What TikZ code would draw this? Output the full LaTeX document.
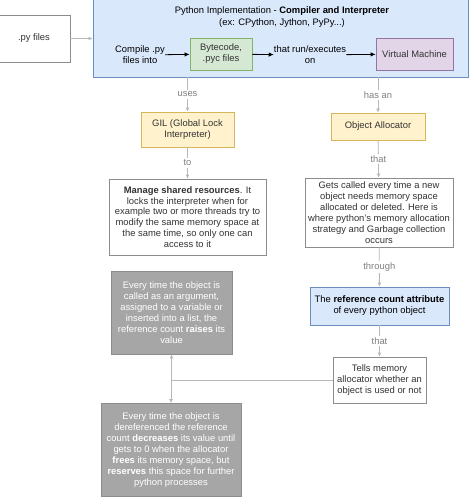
\documentclass[tikz,border=0pt]{standalone}
\usepackage{fontspec}
\setmainfont{Liberation Sans}
\usepackage{xcolor}
\usetikzlibrary{arrows.meta}
\definecolor{blueF}{HTML}{DAE8FC}
\definecolor{blueD}{HTML}{6C8EBF}
\definecolor{greenF}{HTML}{D5E8D4}
\definecolor{greenD}{HTML}{82B366}
\definecolor{purpleF}{HTML}{E1D5E7}
\definecolor{purpleD}{HTML}{9673A6}
\definecolor{yellowF}{HTML}{FFF2CC}
\definecolor{yellowD}{HTML}{D6B656}
\definecolor{greyF}{HTML}{A6A6A6}
\definecolor{greyD}{HTML}{8C8C8C}
\definecolor{lineC}{HTML}{B8B8B8}
\definecolor{txtC}{HTML}{333333}

\begin{document}
\begin{tikzpicture}[x=1pt,y=-1pt]
    \useasboundingbox (0,0) rectangle (474,497);

    \tikzstyle{base}=[inner sep=0pt,align=center,text=txtC,font=\fontsize{9.4pt}{10.9pt}\selectfont]
    \tikzstyle{plain}=[base,draw=greyD,fill=white,line width=0.8pt]
    \tikzstyle{impl}=[base,draw=blueD,fill=blueF,line width=0.8pt]
    \tikzstyle{code}=[base,draw=greenD,fill=greenF,line width=0.8pt]
    \tikzstyle{vm}=[base,draw=purpleD,fill=purpleF,line width=0.8pt]
    \tikzstyle{core}=[base,draw=yellowD,fill=yellowF,line width=0.8pt]
    \tikzstyle{dark}=[base,draw=greyD,fill=greyF,text=white,line width=0.8pt]
    \tikzstyle{note}=[base,text=black]
    \tikzstyle{lbl}=[base,fill=white,text=gray,inner sep=2pt]

    % source and implementation
    \node[plain,minimum width=72,minimum height=47] (py) at (34,38.5) {.py files};
    \node[impl,minimum width=375,minimum height=80] (pyimpl) at (280.5,37) {};
    \node[note] (title) at (282,17) {Python Implementation - \textbf{Compiler and Interpreter}\\[1.5pt](ex: CPython, Jython, PyPy...)};
    \node[note] (compile) at (140,55) {Compile .py\\files into};
    \node[code,minimum width=62,minimum height=32] (bytec) at (221,54) {Bytecode,\\.pyc files};
    \node[note] (runs) at (310,55) {that run/executes\\on};
    \node[vm,minimum width=77,minimum height=32] (vmach) at (414.5,54) {Virtual Machine};

    % GIL side
    \node[core,minimum width=93,minimum height=35] (gil) at (187.5,129.5) {GIL (Global Lock\\Interpreter)};
    \node[plain,minimum width=157,minimum height=76] (manage) at (187.5,217) {\textbf{Manage shared resources}. It\\locks the interpreter when for\\example two or more threads try to\\modify the same memory space at\\the same time, so only one can\\access to it};

    % allocator side
    \node[core,minimum width=94,minimum height=27] (alloc) at (378,126.5) {Object Allocator};
    \node[plain,minimum width=148,minimum height=69] (gets) at (379,212.5) {Gets called every time a new\\object needs memory space\\allocated or deleted. Here is\\where python's memory allocation\\strategy and Garbage collection\\occurs};
    \node[impl,minimum width=139,minimum height=38,text=black] (refc) at (379.5,306) {The \textbf{reference count attribute}\\of every python object};
    \node[plain,minimum width=93,minimum height=46] (tells) at (379.5,380) {Tells memory\\allocator whether an\\object is used or not};

    % reference count effects
    \node[dark,minimum width=121,minimum height=83] (raise) at (171.5,312.5) {Every time the object is\\called as an argument,\\assigned to a variable or\\inserted into a list, the\\reference count \textbf{raises} its\\value};
    \node[dark,minimum width=140,minimum height=93] (decr) at (171,450) {Every time the object is\\dereferenced the reference\\count \textbf{decreases} its value until\\gets to 0 when the allocator\\\textbf{frees} its memory space, but\\\textbf{reserves} this space for further\\python processes};

    \tikzstyle{fwd} = [draw=black, line width=0.8pt, -{Latex[length=5pt,width=4.5pt]}]
    \tikzstyle{rel} = [draw=lineC, line width=0.9pt, -{Latex[length=4pt,width=4pt]}]

          \draw [rel] (py) -- (pyimpl.west |- py);
          \draw [fwd] (compile) -- (bytec);
          \draw [fwd] (bytec) -- (runs);
          \draw [fwd] (runs) -- (vmach);
          \draw [rel] (gil.north |- pyimpl.south) -- node[lbl] {uses} (gil);
          \draw [rel] (alloc.north |- pyimpl.south) -- node[lbl] {has an} (alloc);
          \draw [rel] (gil) -- node[lbl] {to} (manage);
          \draw [rel] (alloc) -- node[lbl] {that} (gets);
          \draw [rel] (gets) -- node[lbl] {through} (refc);
          \draw [rel] (refc) -- node[lbl] {that} (tells);
          \draw [rel] (tells.west) -| (raise.south);
          \draw [rel] (tells.west) -| (decr.north);

  \end{tikzpicture}
\end{document}
